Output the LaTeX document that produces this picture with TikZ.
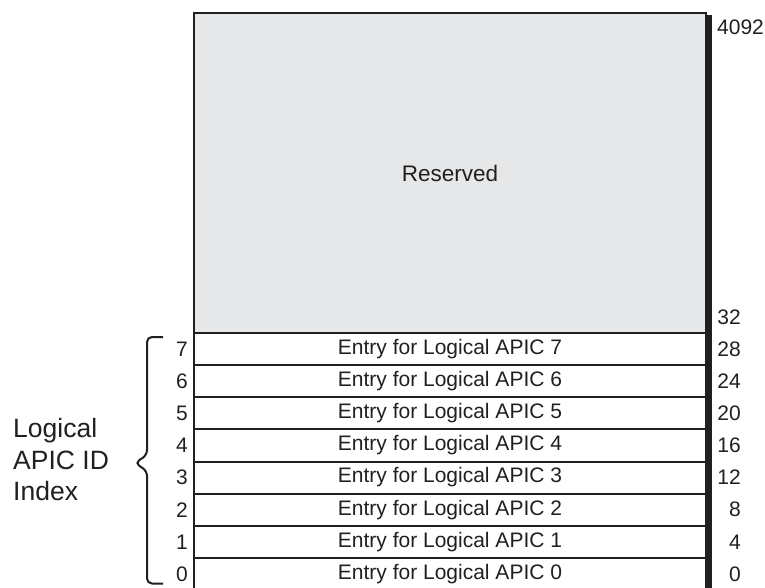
\documentclass[tikz,border=0pt]{standalone}
\usepackage{fontspec}
\setmainfont{Liberation Sans}
\definecolor{ink}{HTML}{231F20}
\definecolor{resgray}{HTML}{E6E7E8}
\begin{document}
\begin{tikzpicture}[x=1pt,y=-1pt,
  every node/.style={text=ink, font=\fontsize{21}{25}\selectfont},
  entrybox/.style={draw=ink, line width=2pt, fill=white, minimum width=512pt, minimum height=32.125pt, inner sep=0pt, anchor=center},
  resbox/.style={draw=ink, line width=2pt, fill=resgray, minimum width=512pt, minimum height=320pt, inner sep=0pt, font=\fontsize{22.5}{27}\selectfont},
  idx/.style={anchor=center, inner sep=0pt},
  off/.style={anchor=east, inner sep=0pt},
  bigtext/.style={font=\fontsize{26.5}{31.5}\selectfont, align=left, anchor=west, inner sep=0pt}]
\useasboundingbox (0,0) rectangle (765,588);
% shadow
\fill[ink] (706,15) rectangle (711.5,592);
% reserved
\node[resbox] (res) at (450,173) {Reserved};
% entries
\foreach \i in {0,...,7} {
  \pgfmathsetmacro{\yc}{333 + (7-\i)*32.125 + 16.0625}
  \node[entrybox] (e\i) at (450,\yc) {Entry for Logical APIC \i};
  \node[idx] (n\i) at (182,\yc) {\i};
}
% outer frame
\draw[ink, line width=2.5pt] (194,590) -- (194,13) -- (706,13) -- (706,590);
% offsets
\node[anchor=west, inner sep=0pt] (o4092) at (717,27.5) {4092};
\node[off] (o32) at (741,317.5) {32};
\node[off] (o28) at (741,349) {28};
\node[off] (o24) at (741,381.2) {24};
\node[off] (o20) at (741,413.3) {20};
\node[off] (o16) at (741,445.4) {16};
\node[off] (o12) at (741,477.5) {12};
\node[off] (o8) at (741,509.7) {8};
\node[off] (o4) at (741,541.8) {4};
\node[off] (o0) at (741,574) {0};
% brace
\draw[ink, line width=2pt, rounded corners=5pt] (163,337) -- (147,337) -- (147,455) -- (135,463) -- (147,471) -- (147,583.5) -- (163,583.5);
% label
\node[bigtext] (lbl) at (13,460) {Logical\\APIC ID\\Index};
\end{tikzpicture}
\end{document}
